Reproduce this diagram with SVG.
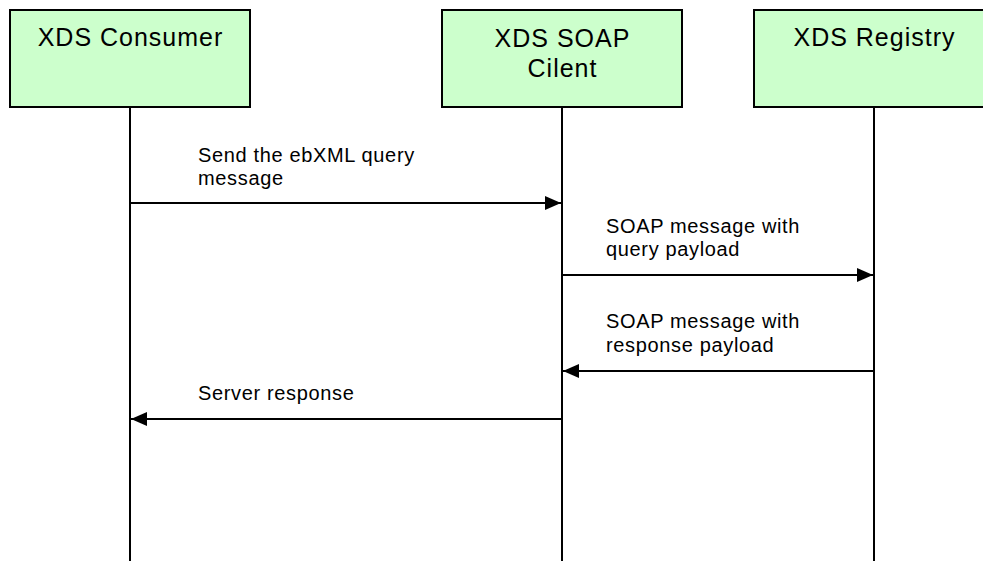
<svg xmlns="http://www.w3.org/2000/svg" width="983" height="561" viewBox="0 0 983 561">
<style>
.box{fill:#ccffcc;stroke:#000;stroke-width:2}
.life{stroke:#000;stroke-width:2;fill:none}
.msg{stroke:#000;stroke-width:2;fill:none}
.title{font-family:"Liberation Sans",Arial,sans-serif;font-size:25px;letter-spacing:1px;fill:#000;text-anchor:middle}
.lbl{font-family:"Liberation Sans",Arial,sans-serif;font-size:20px;letter-spacing:0.65px;fill:#000}
</style>
<defs>
<marker id="ah" markerWidth="16" markerHeight="14" refX="16" refY="7" orient="auto" markerUnits="userSpaceOnUse">
<path d="M0,0 L16,7 L0,14 Z" fill="#000"/>
</marker>
</defs>
<g id="consumer">
<rect class="box" x="10" y="10" width="240" height="97"/>
<text class="title" x="130.5" y="46">XDS Consumer</text>
<line class="life" x1="130" y1="107" x2="130" y2="561"/>
</g>
<g id="soapclient">
<rect class="box" x="442" y="10" width="240" height="97"/>
<text class="title" x="562.5" y="47">XDS SOAP</text>
<text class="title" x="562.5" y="77">Cilent</text>
<line class="life" x1="562" y1="107" x2="562" y2="561"/>
</g>
<g id="registry">
<rect class="box" x="754" y="10" width="240" height="97"/>
<text class="title" x="874.5" y="46">XDS Registry</text>
<line class="life" x1="874" y1="107" x2="874" y2="561"/>
</g>
<g id="connectors">
<line class="msg" x1="130" y1="203" x2="561" y2="203" marker-end="url(#ah)"/>
<line class="msg" x1="562" y1="275" x2="873" y2="275" marker-end="url(#ah)"/>
<line class="msg" x1="874" y1="371" x2="563" y2="371" marker-end="url(#ah)"/>
<line class="msg" x1="562" y1="419" x2="131" y2="419" marker-end="url(#ah)"/>
</g>
<g id="labels">
<text class="lbl" x="198" y="162">Send the ebXML query</text>
<text class="lbl" x="198" y="185">message</text>
<text class="lbl" x="606" y="233">SOAP message with</text>
<text class="lbl" x="606" y="256">query payload</text>
<text class="lbl" x="606" y="328">SOAP message with</text>
<text class="lbl" x="606" y="352">response payload</text>
<text class="lbl" x="198" y="400">Server response</text>
</g>
</svg>
